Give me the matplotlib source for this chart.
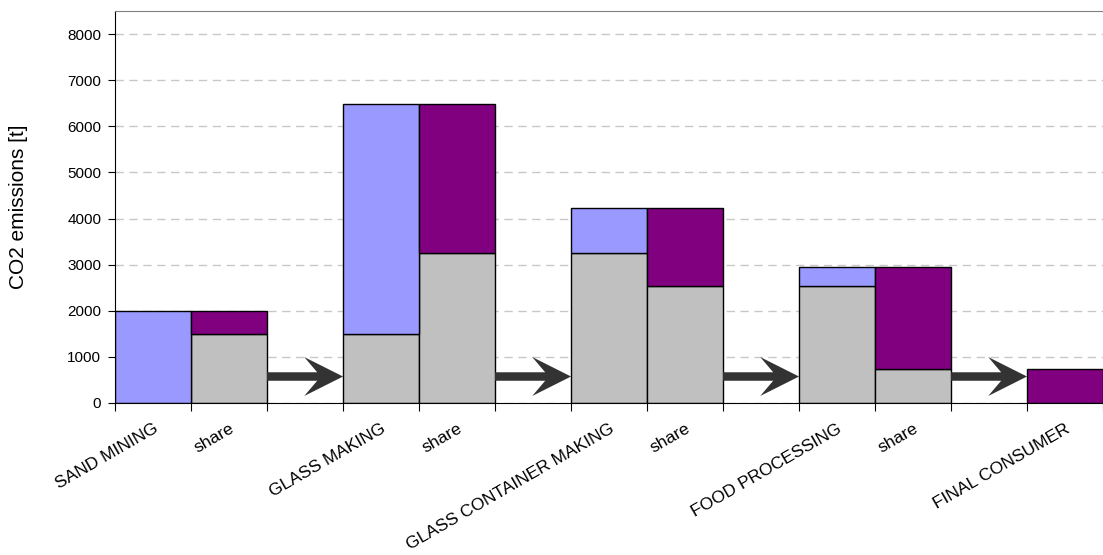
import numpy as np
import matplotlib.pyplot as plt
from matplotlib.patches import Polygon

plt.rcParams['font.family'] = ['Liberation Sans', 'DejaVu Sans']

# Supply chain stages; empty slots hold the arrows between stages
stages = ["SAND MINING", "share", "", "GLASS MAKING", "share", "",
          "GLASS CONTAINER MAKING", "share", "", "FOOD PROCESSING", "share", "",
          "FINAL CONSUMER"]
# emissions carried over from earlier stages (grey base)
inherited = [0, 1500, 0, 1500, 3245, 0, 3245, 2530, 0, 2530, 730, 0, 0]
# emissions added at the stage itself
own = [2000, 0, 0, 4990, 0, 0, 985, 0, 0, 410, 0, 0, 0]
# emissions handed on to the next stage
passed = [0, 500, 0, 0, 3245, 0, 0, 1700, 0, 0, 2210, 0, 730]

x = np.arange(len(stages))
inherited = np.array(inherited)
own = np.array(own)
passed = np.array(passed)

fig = plt.figure(figsize=(11.03, 5.55), dpi=100)
ax = fig.add_axes([0.1043, 0.274, 0.8957, 0.706])

ax.set_axisbelow(True)
ax.yaxis.grid(True, linestyle=(0, (6, 4)), color='#c8c8c8', linewidth=1)

m = inherited > 0
ax.bar(x[m], inherited[m], width=1, color='#C0C0C0', edgecolor='black', linewidth=1)
m = own > 0
ax.bar(x[m], own[m], bottom=inherited[m], width=1, color='#9999FF',
       edgecolor='black', linewidth=1)
m = passed > 0
ax.bar(x[m], passed[m], bottom=inherited[m], width=1, color='#800080',
       edgecolor='black', linewidth=1)

# flow arrows in the empty slots
yc, shaft, head = 573, 92, 422
for i, s in enumerate(stages):
    if s:
        continue
    x0 = i - 0.5
    pts = [(x0, yc + shaft), (x0 + 0.66, yc + shaft), (x0 + 0.49, yc + head),
           (x0 + 1.0, yc), (x0 + 0.49, yc - head), (x0 + 0.66, yc - shaft),
           (x0, yc - shaft)]
    ax.add_patch(Polygon(pts, closed=True, facecolor='#333333',
                         edgecolor='none', zorder=3))

ax.set_xlim(-0.5, 12.386)
ax.set_ylim(0, 8500)
ax.set_yticks(range(0, 8001, 1000))

ax.set_xticks(np.arange(-0.5, 12.6, 1.0))
ax.set_xticklabels([])
ax.set_xticks(x, minor=True)
ax.set_xticklabels(stages, minor=True, rotation=30, ha='right',
                   rotation_mode='anchor', fontsize=12.5)
ax.tick_params(axis='x', which='minor', length=0, pad=13)
ax.tick_params(axis='x', which='major', length=6, direction='out', color='black')
ax.tick_params(axis='y', length=5, direction='out', labelsize=11, pad=5)

ax.set_ylabel('CO2 emissions [t]', fontsize=15, labelpad=28)

ax.spines['top'].set_color('#808080')
ax.spines['right'].set_visible(False)
ax.spines['left'].set_color('black')
ax.spines['bottom'].set_color('black')

fig.savefig('out.png', dpi=100)
